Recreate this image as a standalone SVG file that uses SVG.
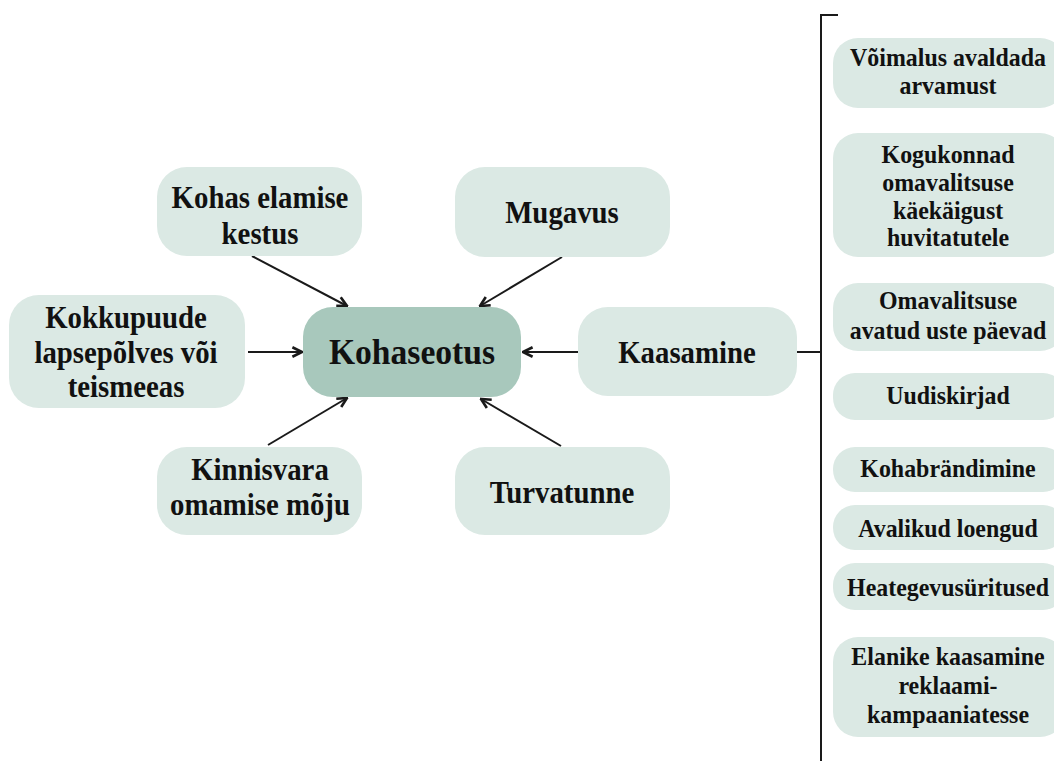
<svg xmlns="http://www.w3.org/2000/svg" width="1054" height="761" viewBox="0 0 1054 761">
<defs>
<style>
.box{fill:#dbe9e4;}
.core{fill:#a8c8bc;}
.t{font-family:"Liberation Serif","Times New Roman",serif;font-weight:bold;fill:#111;text-anchor:middle;transform-box:fill-box;transform-origin:center;}
.l{font-size:32px;transform:scaleX(0.9);}
.c{font-size:35px;transform:scaleX(0.96);}
.r{font-size:26px;transform:scaleX(0.92);}
.ln{stroke:#1a1a1a;stroke-width:2;fill:none;}
</style>
<marker id="ah" viewBox="0 0 10 10" refX="9" refY="5" markerWidth="6" markerHeight="6" orient="auto" markerUnits="strokeWidth">
<path d="M1,1 L9,5 L1,9" fill="none" stroke="#1a1a1a" stroke-width="2.2"/>
</marker>
</defs>
<rect width="1054" height="761" fill="#fff"/>

<g id="connectors">
<line class="ln" x1="252" y1="256" x2="347" y2="306" marker-end="url(#ah)"/>
<line class="ln" x1="562" y1="257" x2="480" y2="306" marker-end="url(#ah)"/>
<line class="ln" x1="248" y1="352" x2="302" y2="352" marker-end="url(#ah)"/>
<line class="ln" x1="578" y1="352" x2="523" y2="352" marker-end="url(#ah)"/>
<line class="ln" x1="268" y1="445" x2="347" y2="398" marker-end="url(#ah)"/>
<line class="ln" x1="561" y1="446" x2="481" y2="399" marker-end="url(#ah)"/>
<path class="ln" d="M797,352 H821"/>
<path class="ln" d="M838,15 H821 V761"/>
</g>

<g id="n-kohaseotus">
<rect class="core" x="303" y="307" width="218" height="90" rx="30"/>
<text class="t c" x="412" y="364">Kohaseotus</text>
</g>
<g id="n-kohas-elamise">
<rect class="box" x="157" y="167" width="205" height="89" rx="30"/>
<text class="t l" x="260" y="208">Kohas elamise</text>
<text class="t l" x="260" y="244">kestus</text>
</g>
<g id="n-mugavus">
<rect class="box" x="455" y="167" width="215" height="90" rx="30"/>
<text class="t l" x="562" y="223">Mugavus</text>
</g>
<g id="n-kokkupuude">
<rect class="box" x="9" y="295" width="236" height="113" rx="30"/>
<text class="t l" x="126" y="328">Kokkupuude</text>
<text class="t l" x="126" y="363">lapsepõlves või</text>
<text class="t l" x="126" y="397">teismeeas</text>
</g>
<g id="n-kaasamine">
<rect class="box" x="578" y="307" width="219" height="89" rx="30"/>
<text class="t l" x="687" y="363">Kaasamine</text>
</g>
<g id="n-kinnisvara">
<rect class="box" x="157" y="447" width="205" height="88" rx="30"/>
<text class="t l" x="260" y="480">Kinnisvara</text>
<text class="t l" x="260" y="515">omamise mõju</text>
</g>
<g id="n-turvatunne">
<rect class="box" x="455" y="447" width="215" height="88" rx="30"/>
<text class="t l" x="562" y="503">Turvatunne</text>
</g>

<g id="n-voimalus">
<rect class="box" x="833" y="38" width="232" height="70" rx="25"/>
<text class="t r" x="948" y="66">Võimalus avaldada</text>
<text class="t r" x="948" y="94">arvamust</text>
</g>
<g id="n-kogukonnad">
<rect class="box" x="833" y="133" width="232" height="124" rx="25"/>
<text class="t r" x="948" y="163">Kogukonnad</text>
<text class="t r" x="948" y="191">omavalitsuse</text>
<text class="t r" x="948" y="219">käekäigust</text>
<text class="t r" x="948" y="246">huvitatutele</text>
</g>
<g id="n-omavalitsuse">
<rect class="box" x="833" y="283" width="232" height="68" rx="25"/>
<text class="t r" x="948" y="309">Omavalitsuse</text>
<text class="t r" x="948" y="339">avatud uste päevad</text>
</g>
<g id="n-uudiskirjad">
<rect class="box" x="833" y="373" width="232" height="47" rx="22"/>
<text class="t r" x="948" y="404">Uudiskirjad</text>
</g>
<g id="n-kohabrandimine">
<rect class="box" x="833" y="447" width="232" height="45" rx="22"/>
<text class="t r" x="948" y="477">Kohabrändimine</text>
</g>
<g id="n-avalikud">
<rect class="box" x="833" y="505" width="232" height="45" rx="22"/>
<text class="t r" x="948" y="537">Avalikud loengud</text>
</g>
<g id="n-heategevus">
<rect class="box" x="833" y="563" width="232" height="47" rx="22"/>
<text class="t r" x="948" y="596">Heategevusüritused</text>
</g>
<g id="n-elanike">
<rect class="box" x="833" y="637" width="232" height="100" rx="25"/>
<text class="t r" x="948" y="665">Elanike kaasamine</text>
<text class="t r" x="948" y="694">reklaami-</text>
<text class="t r" x="948" y="723">kampaaniatesse</text>
</g>
</svg>
